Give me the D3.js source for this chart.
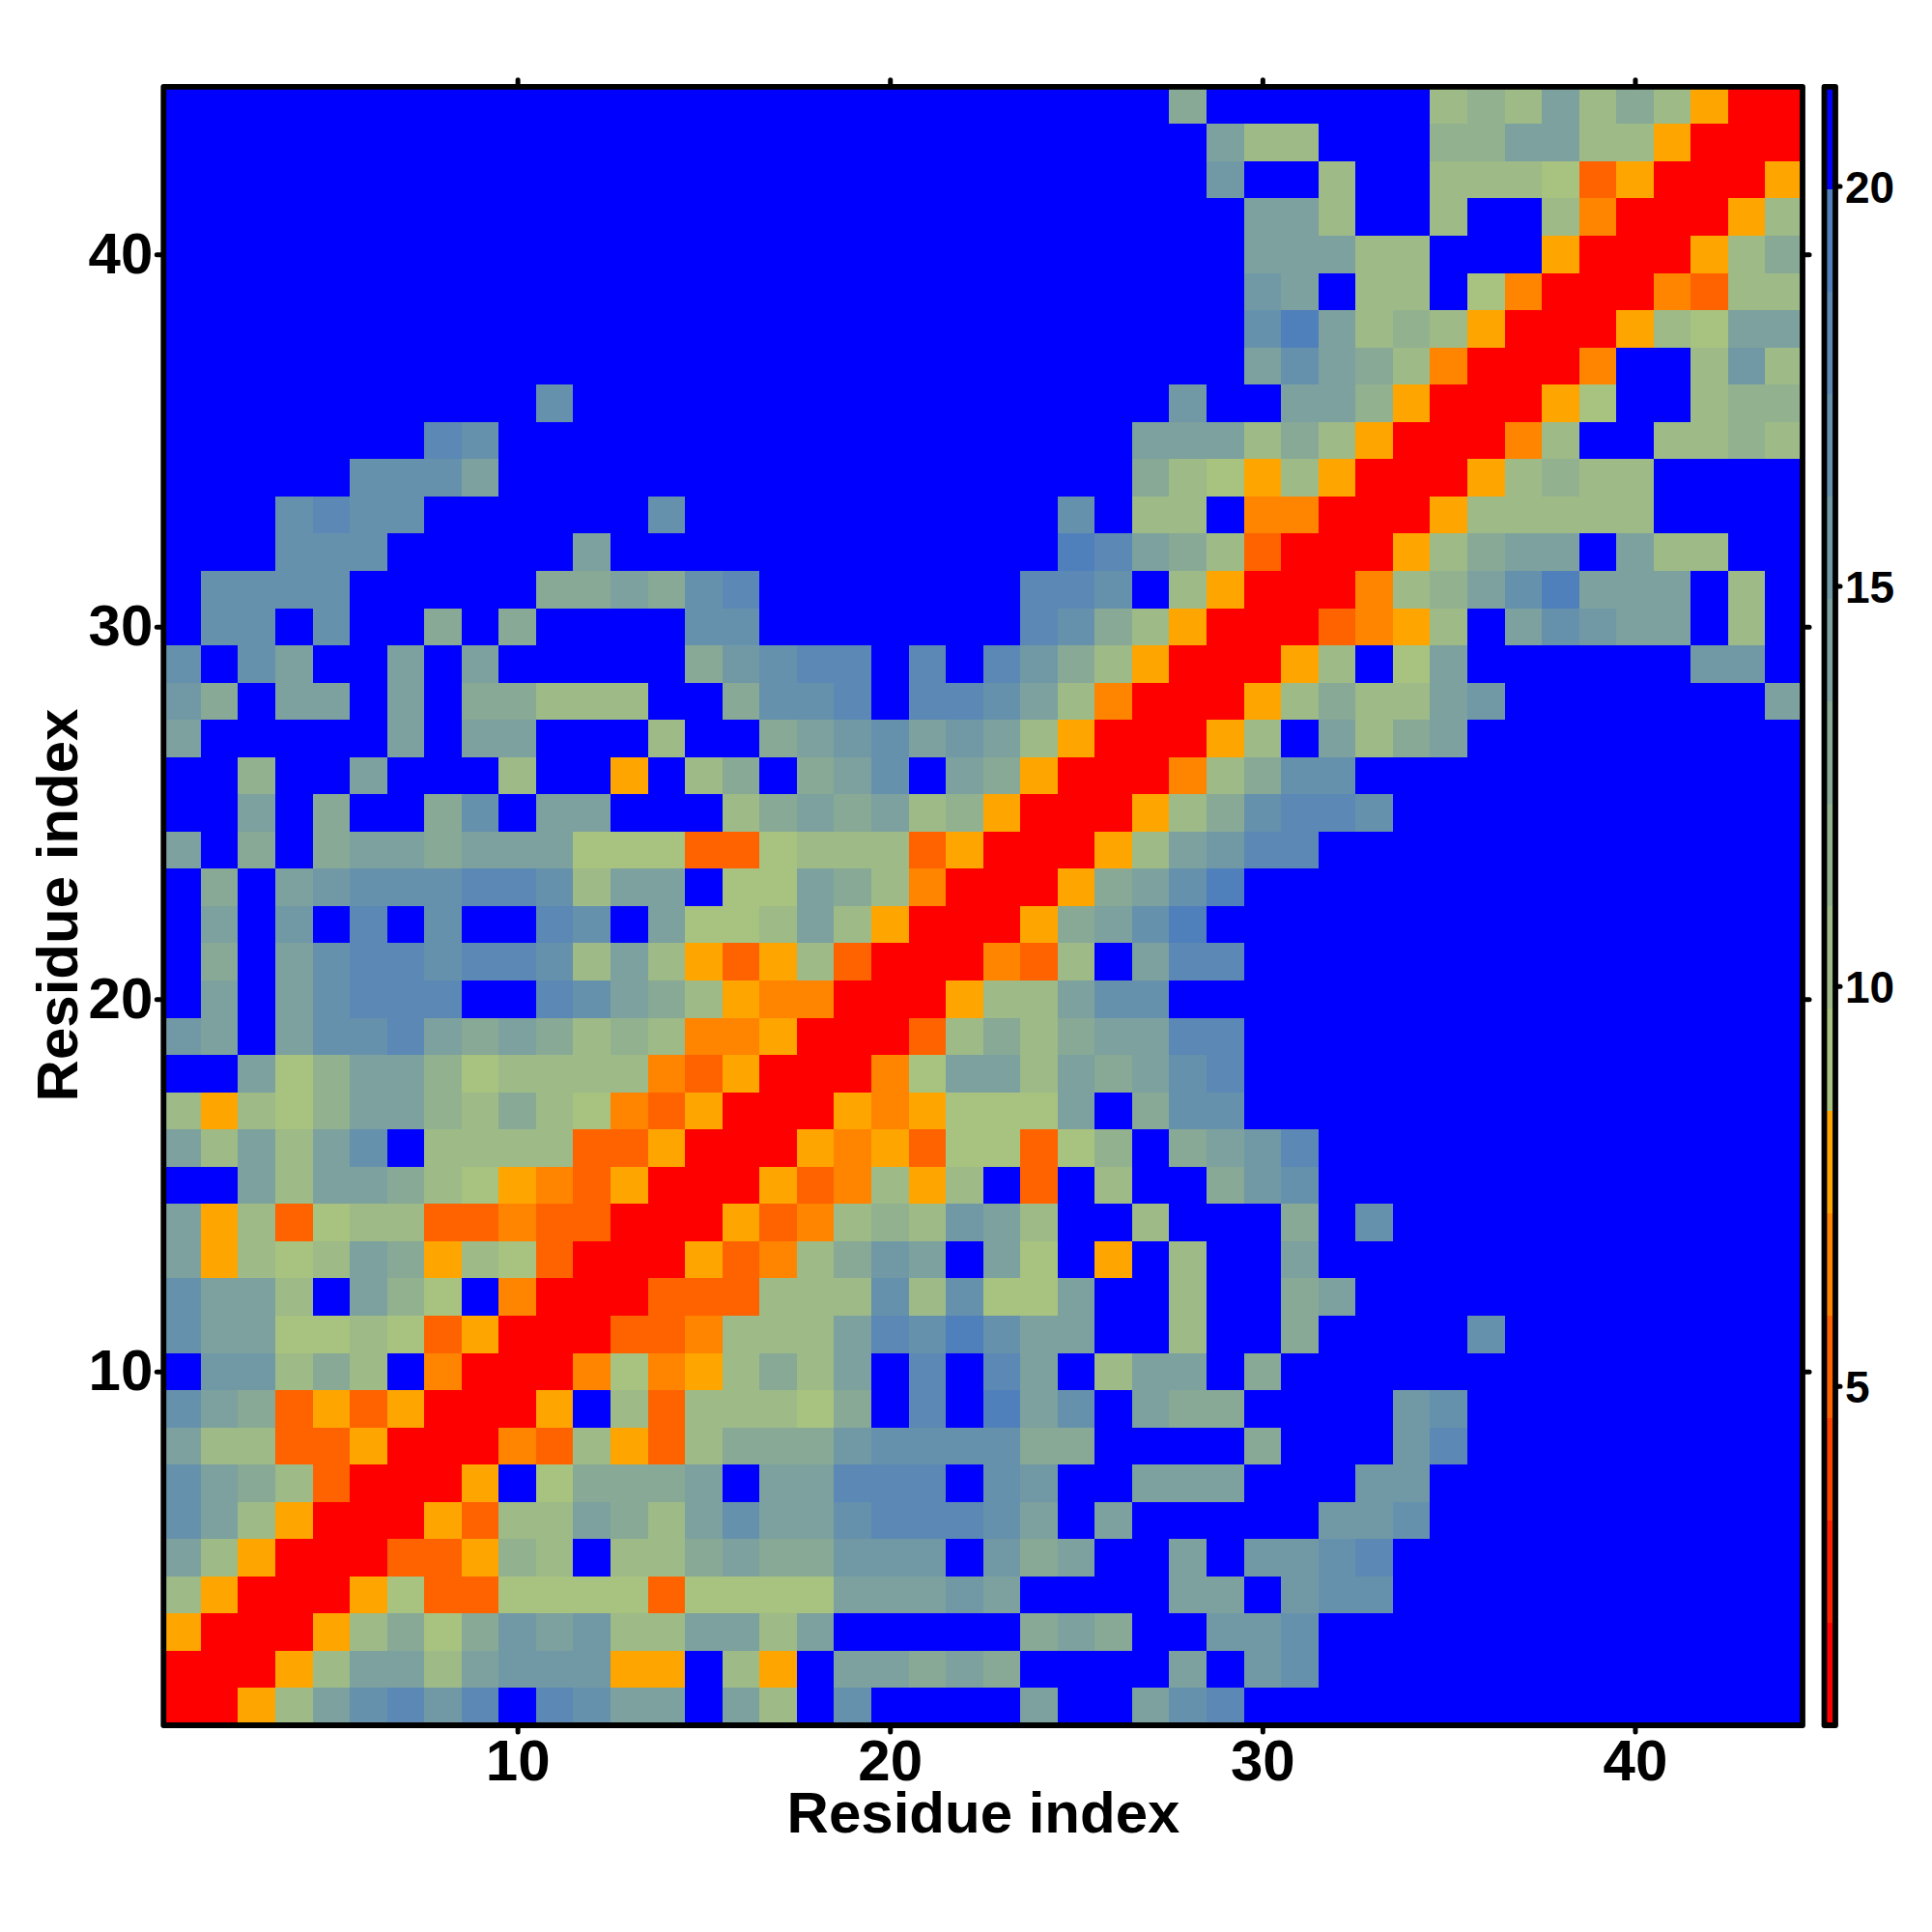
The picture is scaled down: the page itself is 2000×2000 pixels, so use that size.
<!DOCTYPE html>
<html><head><meta charset="utf-8">
<script src="https://cdn.jsdelivr.net/npm/d3@7/dist/d3.min.js"></script>
<style>html,body{margin:0;padding:0;background:#fff}svg{display:block}</style>
</head><body>
<div id="chart"></div>
<script>
// Residue-residue distances, bottom row first (residue 1), columns left to right (residue 1..44)
const row01=[1.4,1.4,7.8,10.4,14.2,16.8,18,15.5,18,21,18,16.8,14.2,14.2,21,14.2,10.4,21,16.8,21,21,21,21,14.2,21,21,14.2,16.8,18,21,21,21,21,21,21,21,21,21,21,21,21,21,21,21];
const row02=[1.4,1.4,1.4,7.8,10.4,14.2,14.2,10.4,14.2,15.5,15.5,15.5,7.8,7.8,21,10.4,7.8,21,14.2,14.2,12.9,14.2,12.9,21,21,21,21,14.2,21,15.5,16.8,21,21,21,21,21,21,21,21,21,21,21,21,21];
const row03=[7.8,1.4,1.4,1.4,7.8,10.4,12.9,9.1,12.9,15.5,14.2,15.5,10.4,10.4,14.2,14.2,10.4,14.2,21,21,21,21,21,12.9,14.2,12.9,21,21,15.5,15.5,16.8,21,21,21,21,21,21,21,21,21,21,21,21,21];
const row04=[10.4,7.8,1.4,1.4,1.4,7.8,9.1,5.2,5.2,9.1,9.1,9.1,9.1,5.2,9.1,9.1,9.1,9.1,14.2,14.2,14.2,15.5,14.2,21,21,21,21,14.2,14.2,21,15.5,16.8,16.8,21,21,21,21,21,21,21,21,21,21,21];
const row05=[14.2,10.4,7.8,1.4,1.4,1.4,5.2,5.2,7.8,11.6,10.4,21,10.4,10.4,12.9,14.2,12.9,12.9,15.5,15.5,15.5,21,15.5,12.9,14.2,21,21,14.2,21,15.5,15.5,16.8,18,21,21,21,21,21,21,21,21,21,21,21];
const row06=[16.8,14.2,10.4,7.8,1.4,1.4,1.4,7.8,5.2,10.4,10.4,14.2,12.9,10.4,14.2,16.8,14.2,14.2,16.8,18,18,18,16.8,14.2,21,14.2,21,21,21,21,21,15.5,15.5,16.8,21,21,21,21,21,21,21,21,21,21];
const row07=[16.8,14.2,12.9,10.4,5.2,1.4,1.4,1.4,7.8,21,9.1,12.9,12.9,12.9,14.2,21,14.2,14.2,18,18,18,21,16.8,15.5,21,21,14.2,14.2,14.2,21,21,21,15.5,15.5,21,21,21,21,21,21,21,21,21,21];
const row08=[14.2,10.4,10.4,5.2,5.2,7.8,1.4,1.4,1.4,6.5,5.2,10.4,7.8,5.2,10.4,12.9,12.9,12.9,15.5,16.8,16.8,16.8,16.8,12.9,12.9,21,21,21,21,12.9,21,21,21,15.5,18,21,21,21,21,21,21,21,21,21];
const row09=[16.8,14.2,12.9,5.2,7.8,5.2,7.8,1.4,1.4,1.4,7.8,21,10.4,5.2,10.4,10.4,10.4,9.1,12.9,21,18,21,19.3,14.2,16.8,21,14.2,12.9,12.9,21,21,21,21,15.5,16.8,21,21,21,21,21,21,21,21,21];
const row10=[21,15.5,15.5,10.4,12.9,10.4,21,6.5,1.4,1.4,1.4,6.5,9.1,6.5,7.8,10.4,12.9,10.4,14.2,21,18,21,18,14.2,21,10.4,14.2,14.2,21,12.9,21,21,21,21,21,21,21,21,21,21,21,21,21,21];
const row11=[16.8,14.2,14.2,9.1,9.1,10.4,9.1,5.2,7.8,1.4,1.4,1.4,5.2,5.2,6.5,10.4,10.4,10.4,14.2,18,16.8,19.3,16.8,14.2,14.2,21,21,10.4,21,21,12.9,21,21,21,21,16.8,21,21,21,21,21,21,21,21];
const row12=[16.8,14.2,14.2,10.4,21,14.2,11.6,9.1,21,6.5,1.4,1.4,1.4,5.2,5.2,5.2,10.4,10.4,10.4,16.8,10.4,16.8,9.1,9.1,14.2,21,21,10.4,21,21,12.9,14.2,21,21,21,21,21,21,21,21,21,21,21,21];
const row13=[14.2,7.8,10.4,9.1,10.4,14.2,12.9,7.8,10.4,9.1,5.2,1.4,1.4,1.4,7.8,5.2,6.5,10.4,12.9,15.5,14.2,21,14.2,9.1,21,7.8,21,10.4,21,21,14.2,21,21,21,21,21,21,21,21,21,21,21,21,21];
const row14=[14.2,7.8,10.4,5.2,9.1,10.4,10.4,5.2,5.2,6.5,5.2,5.2,1.4,1.4,1.4,7.8,5.2,6.5,10.4,11.6,10.4,15.5,14.2,10.4,21,21,10.4,21,21,21,12.9,21,16.8,21,21,21,21,21,21,21,21,21,21,21];
const row15=[21,21,14.2,10.4,14.2,14.2,12.9,10.4,9.1,7.8,6.5,5.2,7.8,1.4,1.4,1.4,7.8,5.2,6.5,10.4,7.8,10.4,21,5.2,21,10.4,21,21,12.9,15.5,16.8,21,21,21,21,21,21,21,21,21,21,21,21,21];
const row16=[14.2,10.4,14.2,10.4,14.2,16.8,21,10.4,10.4,10.4,10.4,5.2,5.2,7.8,1.4,1.4,1.4,7.8,6.5,7.8,5.2,9.1,9.1,5.2,9.1,11.6,21,12.9,14.2,15.5,18,21,21,21,21,21,21,21,21,21,21,21,21,21];
const row17=[10.4,7.8,10.4,9.1,11.6,14.2,14.2,11.6,10.4,12.9,10.4,9.1,6.5,5.2,7.8,1.4,1.4,1.4,7.8,6.5,7.8,9.1,9.1,9.1,14.2,21,12.9,16.8,16.8,21,21,21,21,21,21,21,21,21,21,21,21,21,21,21];
const row18=[21,21,14.2,9.1,11.6,14.2,14.2,11.6,9.1,10.4,10.4,10.4,10.4,6.5,5.2,7.8,1.4,1.4,1.4,6.5,9.1,14.2,14.2,10.4,14.2,12.9,14.2,16.8,18,21,21,21,21,21,21,21,21,21,21,21,21,21,21,21];
const row19=[15.5,14.2,21,14.2,16.8,16.8,18,14.2,12.9,14.2,12.9,10.4,11.6,10.4,6.5,6.5,7.8,1.4,1.4,1.4,5.2,10.4,12.9,10.4,12.9,14.2,14.2,18,18,21,21,21,21,21,21,21,21,21,21,21,21,21,21,21];
const row20=[21,14.2,21,14.2,16.8,18,18,18,21,21,18,16.8,14.2,12.9,10.4,7.8,6.5,6.5,1.4,1.4,1.4,7.8,10.4,10.4,14.2,16.8,16.8,21,21,21,21,21,21,21,21,21,21,21,21,21,21,21,21,21];
const row21=[21,12.9,21,14.2,16.8,18,18,16.8,18,18,16.8,10.4,14.2,10.4,7.8,5.2,7.8,10.4,5.2,1.4,1.4,1.4,6.5,5.2,10.4,21,14.2,18,18,21,21,21,21,21,21,21,21,21,21,21,21,21,21,21];
const row22=[21,14.2,21,15.5,21,18,21,16.8,21,21,18,16.8,21,14.2,9.1,9.1,10.4,14.2,10.4,7.8,1.4,1.4,1.4,7.8,12.9,14.2,16.8,19.3,21,21,21,21,21,21,21,21,21,21,21,21,21,21,21,21];
const row23=[21,12.9,21,14.2,15.5,16.8,16.8,16.8,18,18,16.8,10.4,14.2,14.2,21,9.1,9.1,14.2,12.9,10.4,6.5,1.4,1.4,1.4,7.8,12.9,14.2,16.8,19.3,21,21,21,21,21,21,21,21,21,21,21,21,21,21,21];
const row24=[14.2,21,12.9,21,12.9,14.2,14.2,12.9,14.2,14.2,14.2,9.1,9.1,9.1,5.2,5.2,9.1,10.4,10.4,10.4,5.2,7.8,1.4,1.4,1.4,7.8,10.4,14.2,15.5,18,18,21,21,21,21,21,21,21,21,21,21,21,21,21];
const row25=[21,21,14.2,21,12.9,21,21,12.9,16.8,21,14.2,14.2,21,21,21,10.4,12.9,14.2,12.9,14.2,10.4,11.6,7.8,1.4,1.4,1.4,7.8,10.4,12.9,16.8,18,18,16.8,21,21,21,21,21,21,21,21,21,21,21];
const row26=[21,21,11.6,21,21,14.2,21,21,21,10.4,21,21,7.8,21,10.4,12.9,21,12.9,14.2,16.8,21,14.2,12.9,7.8,1.4,1.4,1.4,6.5,10.4,12.9,16.8,16.8,21,21,21,21,21,21,21,21,21,21,21,21];
const row27=[14.2,21,21,21,21,21,14.2,21,14.2,14.2,21,21,21,10.4,21,21,12.9,14.2,15.5,16.8,14.2,15.5,14.2,10.4,7.8,1.4,1.4,1.4,7.8,10.4,21,14.2,10.4,12.9,14.2,21,21,21,21,21,21,21,21,21];
const row28=[15.5,12.9,21,14.2,14.2,21,14.2,21,12.9,12.9,10.4,10.4,10.4,21,21,12.9,16.8,16.8,18,21,18,18,16.8,14.2,10.4,6.5,1.4,1.4,1.4,7.8,10.4,12.9,10.4,10.4,14.2,15.5,21,21,21,21,21,21,21,14.2];
const row29=[16.8,21,16.8,14.2,21,21,14.2,21,14.2,21,21,21,21,21,12.9,15.5,16.8,18,18,21,18,21,18,15.5,12.9,10.4,7.8,1.4,1.4,1.4,7.8,10.4,21,9.1,14.2,21,21,21,21,21,21,15.5,15.5,21];
const row30=[21,16.8,16.8,21,16.8,21,21,12.9,21,12.9,21,21,21,21,16.8,16.8,21,21,21,21,21,21,21,18,16.8,12.9,10.4,7.8,1.4,1.4,1.4,5.2,6.5,7.8,10.4,21,14.2,16.8,15.5,14.2,14.2,21,10.4,21];
const row31=[21,16.8,16.8,16.8,16.8,21,21,21,21,21,12.9,12.9,14.2,12.9,16.8,18,21,21,21,21,21,21,21,18,18,16.8,21,10.4,7.8,1.4,1.4,1.4,6.5,10.4,11.6,14.2,16.8,19.3,14.2,14.2,14.2,21,10.4,21];
const row32=[21,21,21,16.8,16.8,16.8,21,21,21,21,21,14.2,21,21,21,21,21,21,21,21,21,21,21,21,19.3,18,14.2,12.9,10.4,5.2,1.4,1.4,1.4,7.8,10.4,12.9,14.2,14.2,21,14.2,10.4,10.4,21,21];
const row33=[21,21,21,16.8,18,16.8,16.8,21,21,21,21,21,21,16.8,21,21,21,21,21,21,21,21,21,21,16.8,21,10.4,10.4,21,6.5,6.5,1.4,1.4,1.4,7.8,10.4,10.4,10.4,10.4,10.4,21,21,21,21];
const row34=[21,21,21,21,21,16.8,16.8,16.8,14.2,21,21,21,21,21,21,21,21,21,21,21,21,21,21,21,21,21,12.9,10.4,9.1,7.8,10.4,7.8,1.4,1.4,1.4,7.8,10.4,11.6,10.4,10.4,21,21,21,21];
const row35=[21,21,21,21,21,21,21,18,16.8,21,21,21,21,21,21,21,21,21,21,21,21,21,21,21,21,21,14.2,14.2,14.2,10.4,12.9,10.4,7.8,1.4,1.4,1.4,6.5,10.4,21,21,10.4,10.4,11.6,10.4];
const row36=[21,21,21,21,21,21,21,21,21,21,16.8,21,21,21,21,21,21,21,21,21,21,21,21,21,21,21,21,15.5,21,21,14.2,14.2,11.6,7.8,1.4,1.4,1.4,7.8,9.1,21,21,10.4,11.6,11.6];
const row37=[21,21,21,21,21,21,21,21,21,21,21,21,21,21,21,21,21,21,21,21,21,21,21,21,21,21,21,21,21,14.2,16.8,14.2,12.9,10.4,6.5,1.4,1.4,1.4,6.5,21,21,10.4,15.5,10.4];
const row38=[21,21,21,21,21,21,21,21,21,21,21,21,21,21,21,21,21,21,21,21,21,21,21,21,21,21,21,21,21,16.8,19.3,14.2,10.4,11.6,10.4,7.8,1.4,1.4,1.4,7.8,10.4,9.1,14.2,14.2];
const row39=[21,21,21,21,21,21,21,21,21,21,21,21,21,21,21,21,21,21,21,21,21,21,21,21,21,21,21,21,21,15.5,14.2,21,10.4,10.4,21,9.1,6.5,1.4,1.4,1.4,6.5,5.2,10.4,10.4];
const row40=[21,21,21,21,21,21,21,21,21,21,21,21,21,21,21,21,21,21,21,21,21,21,21,21,21,21,21,21,21,14.2,14.2,14.2,10.4,10.4,21,21,21,7.8,1.4,1.4,1.4,7.8,10.4,12.9];
const row41=[21,21,21,21,21,21,21,21,21,21,21,21,21,21,21,21,21,21,21,21,21,21,21,21,21,21,21,21,21,14.2,14.2,10.4,21,21,10.4,21,21,10.4,6.5,1.4,1.4,1.4,7.8,10.4];
const row42=[21,21,21,21,21,21,21,21,21,21,21,21,21,21,21,21,21,21,21,21,21,21,21,21,21,21,21,21,15.5,21,21,10.4,21,21,10.4,10.4,10.4,9.1,5.2,7.8,1.4,1.4,1.4,7.8];
const row43=[21,21,21,21,21,21,21,21,21,21,21,21,21,21,21,21,21,21,21,21,21,21,21,21,21,21,21,21,14.2,10.4,10.4,21,21,21,11.6,11.6,14.2,14.2,10.4,10.4,7.8,1.4,1.4,1.4];
const row44=[21,21,21,21,21,21,21,21,21,21,21,21,21,21,21,21,21,21,21,21,21,21,21,21,21,21,21,12.9,21,21,21,21,21,21,10.4,11.6,10.4,14.2,10.4,12.9,10.4,7.8,1.4,1.4];
const rows=[row01,row02,row03,row04,row05,row06,row07,row08,row09,row10,row11,row12,row13,row14,row15,row16,row17,row18,row19,row20,row21,row22,row23,row24,row25,row26,row27,row28,row29,row30,row31,row32,row33,row34,row35,row36,row37,row38,row39,row40,row41,row42,row43,row44];
const axisTicks=[10,20,30,40];
const colorbarTicks=[5,10,15,20];
const axisTitle="Residue index";
const valueRange=[0.76,21.24];

rows.forEach((r,i)=>{ if(r.length!==44) throw new Error("row "+(i+1)+" has "+r.length); });

const FONT='"Liberation Sans",Arial,sans-serif';
const svg=d3.select("#chart").append("svg").attr("width",2000).attr("height",2000);
const x=d3.scaleLinear().domain([0.5,44.5]).range([169.3,1866]);
const y=d3.scaleLinear().domain([0.5,44.5]).range([1786,89.8]);

const warm=d3.quantize(d3.interpolateRgb("#ff0000","#ffa500"),6);
const cool=d3.quantize(d3.interpolateRgb("#a8c280","#5080bb"),9);
const palette=[...warm,...cool,"#0000ff"];
const color=d3.scaleQuantize().domain(valueRange).range(palette);

const cells=rows.flatMap((r,ri)=>r.map((v,ci)=>({row:ri+1,col:ci+1,v})));
svg.append("g").attr("shape-rendering","crispEdges").selectAll("rect").data(cells).join("rect")
  .attr("x",d=>x(d.col-0.5)).attr("y",d=>y(d.row+0.5))
  .attr("width",d=>x(d.col+0.5)-x(d.col-0.5)).attr("height",d=>y(d.row-0.5)-y(d.row+0.5))
  .attr("fill",d=>color(d.v));

function styleAxis(g,size,labels,dy){
  g.select(".domain").remove();
  g.selectAll(".tick line").attr("stroke","#000").attr("stroke-width",5).attr("stroke-linecap","round");
  g.selectAll("text").attr("fill","#000").style("font-family",FONT).style("font-weight","700").style("font-size",size+"px");
  if(dy) g.selectAll("text").attr("transform",`translate(0,${dy})`);
  if(!labels) g.selectAll("text").remove();
}
const mk=(axis)=>axis.tickValues(axisTicks).tickFormat(d3.format("d")).tickSize(7);
svg.append("g").attr("transform","translate(0,1786)").call(mk(d3.axisBottom(x)).tickPadding(7)).call(g=>styleAxis(g,60,true));
svg.append("g").attr("transform","translate(169.3,0)").call(mk(d3.axisLeft(y)).tickPadding(4)).call(g=>styleAxis(g,60,true));
svg.append("g").attr("transform","translate(0,89.8)").call(mk(d3.axisTop(x))).call(g=>styleAxis(g,60,false));
svg.append("g").attr("transform","translate(1866,0)").call(mk(d3.axisRight(y))).call(g=>styleAxis(g,60,false));

svg.append("rect").attr("x",x.range()[0]).attr("y",y.range()[1]).attr("width",x.range()[1]-x.range()[0]).attr("height",y.range()[0]-y.range()[1])
  .attr("fill","none").attr("stroke","#000").attr("stroke-width",5.8).attr("stroke-linejoin","round");

// colour bar
const cb=d3.scaleLinear().domain(valueRange).range([1786,89.8]);
const edges=[valueRange[0],...color.thresholds(),valueRange[1]];
const cbX=1888.5, cbW=11.5;
svg.append("g").attr("shape-rendering","crispEdges").selectAll("rect").data(palette).join("rect")
  .attr("x",cbX).attr("width",cbW)
  .attr("y",(d,i)=>cb(edges[i+1])).attr("height",(d,i)=>cb(edges[i])-cb(edges[i+1]))
  .attr("fill",d=>d);
svg.append("rect").attr("x",cbX).attr("y",89.8).attr("width",cbW).attr("height",1786-89.8)
  .attr("fill","none").attr("stroke","#000").attr("stroke-width",5.8).attr("stroke-linejoin","round");
svg.append("g").attr("transform",`translate(${cbX+cbW},0)`)
  .call(d3.axisRight(cb).tickValues(colorbarTicks).tickFormat(d3.format("d")).tickSize(5).tickPadding(5))
  .call(g=>styleAxis(g,46,true,2));

// axis titles
svg.append("text").attr("x",1018).attr("y",1897).attr("text-anchor","middle")
  .style("font-family",FONT).style("font-weight","700").style("font-size","60px").text(axisTitle);
svg.append("text").attr("transform","translate(80,937) rotate(-90)").attr("text-anchor","middle")
  .style("font-family",FONT).style("font-weight","700").style("font-size","60px").text(axisTitle);
</script>
</body></html>
